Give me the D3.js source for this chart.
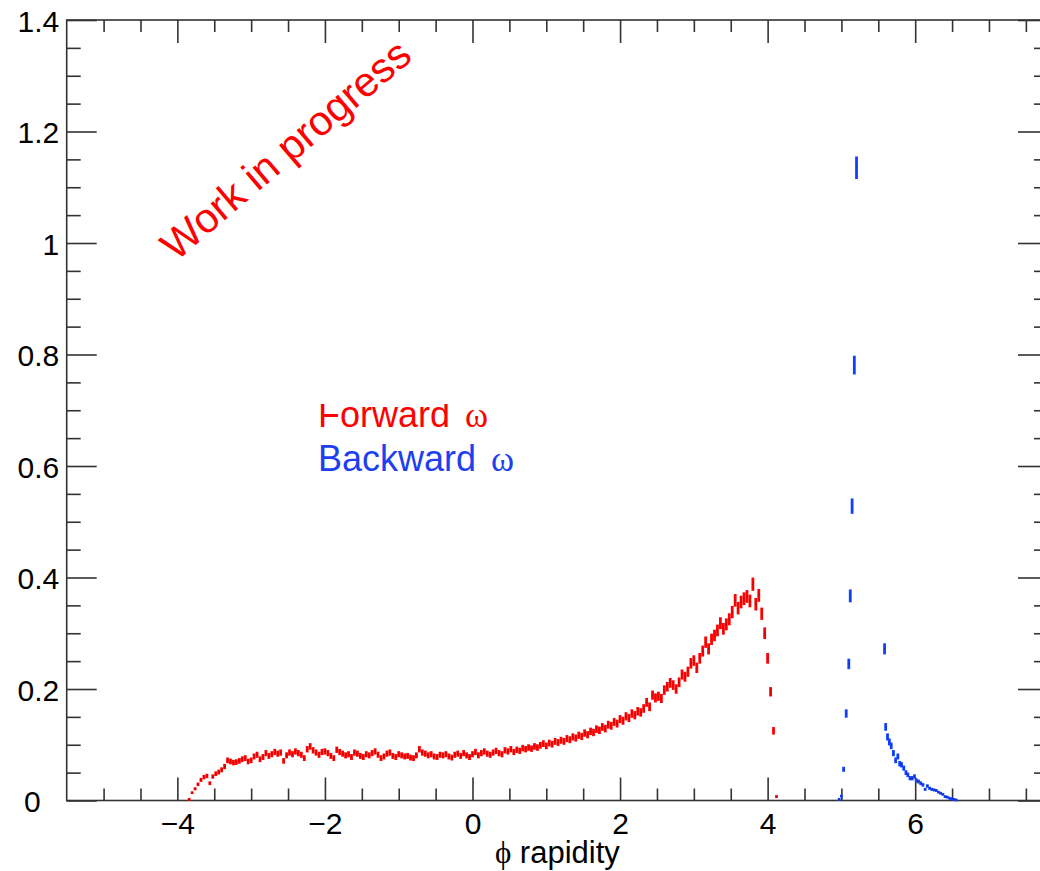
<!DOCTYPE html>
<html>
<head>
<meta charset="utf-8">
<script src="https://cdn.jsdelivr.net/npm/d3@7"></script>
<style>
  html, body { margin: 0; padding: 0; background: #fff; }
  svg { display: block; }
  text { font-family: "Liberation Sans", Arial, Helvetica, sans-serif; }
</style>
</head>
<body>
<svg id="chart" width="1040" height="871"></svg>
<script>
// ---------------- data ----------------
const xDomain = [-5.5, 7.8];
const yDomain = [0, 1.4];
const xMajorTicks = [-4, -2, 0, 2, 4, 6];
const yMajorTicks = [0, 0.2, 0.4, 0.6, 0.8, 1, 1.2, 1.4];
const xMinorStep = 0.5;
const yMinorStep = 0.05;

// Forward omega: bin centres start at redStart, spaced redStep
const redStart = -3.84;
const redStep = 0.04;
const redY = [
  0.002, 0.014, 0.021, 0.029, 0.037, 0.042, 0.044, 0.031, 0.043, 0.048,
  0.051, 0.055, 0.061, 0.072, 0.070, 0.068,
  0.069, 0.071, 0.074, 0.076, 0.070, 0.072, 0.079, 0.082, 0.074, 0.078,
  0.085, 0.080, 0.083, 0.087, 0.084, 0.086, 0.071, 0.081, 0.086, 0.083,
  0.088, 0.085, 0.082, 0.076, 0.092, 0.097, 0.090, 0.086, 0.082, 0.087,
  0.088, 0.085, 0.080, 0.076, 0.091, 0.087, 0.084, 0.081, 0.083, 0.078,
  0.086, 0.084, 0.080, 0.078, 0.083, 0.081, 0.085, 0.088, 0.082, 0.076,
  0.079, 0.084, 0.086, 0.080, 0.078, 0.083, 0.081, 0.079, 0.080, 0.077,
  0.076, 0.081, 0.092, 0.086, 0.084, 0.081, 0.083, 0.079, 0.078, 0.082,
  0.081, 0.083, 0.079, 0.077, 0.082, 0.084, 0.080, 0.085, 0.081, 0.078,
  0.083, 0.087, 0.081, 0.085, 0.088, 0.084, 0.082, 0.086, 0.089, 0.085,
  0.083, 0.090, 0.088, 0.092, 0.087, 0.091, 0.089, 0.094, 0.092, 0.095,
  0.093, 0.097, 0.095, 0.099, 0.102, 0.098, 0.103, 0.101, 0.106, 0.104,
  0.108, 0.106, 0.111, 0.109, 0.114, 0.112, 0.117, 0.115, 0.121, 0.118,
  0.124, 0.122, 0.128, 0.126, 0.132, 0.129, 0.136, 0.134, 0.141, 0.138,
  0.146, 0.143, 0.151, 0.148, 0.156, 0.153, 0.160, 0.158, 0.165, 0.176,
  0.168, 0.189, 0.184, 0.187, 0.183, 0.198, 0.204, 0.211, 0.207, 0.200,
  0.212, 0.226, 0.222, 0.231, 0.246, 0.251, 0.238, 0.255, 0.268, 0.284,
  0.272, 0.289, 0.296, 0.305, 0.318, 0.308, 0.316, 0.325, 0.338, 0.359,
  0.345, 0.356, 0.362, 0.366, 0.358, 0.388, 0.352, 0.368, 0.335, 0.300,
  0.255, 0.195, 0.125, 0.007
];

// Backward omega: explicit bin centres and contents
const blueX = [4.97, 5.00, 5.03, 5.065, 5.10, 5.12, 5.145, 5.175, 5.205,
  5.585, 5.60, 5.625, 5.65, 5.675, 5.705, 5.735, 5.765, 5.79, 5.815, 5.845,
  5.875, 5.90, 5.93, 5.96, 5.99, 6.015, 6.045, 6.075, 6.105, 6.135, 6.165,
  6.195, 6.225, 6.255, 6.285, 6.315, 6.345, 6.375, 6.405, 6.435, 6.465,
  6.495, 6.525, 6.555];
const blueY = [0.002, 0.008, 0.056, 0.156, 0.245, 0.367, 0.528, 0.781, 1.135,
  0.272, 0.132, 0.114, 0.105, 0.098, 0.085, 0.072, 0.079, 0.066, 0.064, 0.058,
  0.050, 0.046, 0.040, 0.040, 0.043, 0.036, 0.034, 0.031, 0.028, 0.020, 0.026,
  0.022, 0.020, 0.019, 0.018, 0.015, 0.013, 0.011, 0.007, 0.006, 0.004,
  0.003, 0.002, 0.001];

const errScale = 0.019; // statistical error ~ errScale * sqrt(content)

const xTitle = "rapidity";
const xTitleSymbol = "ϕ";
const legendLabels = ["Forward", "Backward"];
const legendSymbol = "ω";
const stampText = "Work in progress";

// ---------------- layout ----------------
const svg = d3.select("#chart");
const frame = { left: 66.7, top: 20, right: 1048, bottom: 800.5 };
const x = d3.scaleLinear().domain(xDomain).range([frame.left, frame.right]);
const y = d3.scaleLinear().domain(yDomain).range([frame.bottom, frame.top]);
const axisColor = "#333";
const redColor = "#ff0000";
const blueColor = "#1040ff";

function rangeStep(a, b, s) {
  const out = [];
  const n = Math.round((b - a) / s);
  for (let i = 0; i <= n; i++) out.push(+(a + i * s).toFixed(6));
  return out;
}
const xMinor = rangeStep(-5.5, 7.5, xMinorStep).filter(v => !xMajorTicks.includes(v) && v > xDomain[0]);
const yMinor = rangeStep(0, 1.4, yMinorStep).filter(v => !yMajorTicks.some(m => Math.abs(m - v) < 1e-9));

function styleAxis(g) {
  g.select(".domain").remove();
  g.selectAll(".tick line").attr("stroke", axisColor).attr("stroke-width", 1.6);
  g.selectAll(".tick text").attr("fill", "#000").attr("font-size", 30)
    .attr("font-family", '"Liberation Sans", Arial, Helvetica, sans-serif');
}

// bottom axis
svg.append("g").attr("transform", `translate(0,${frame.bottom})`)
  .call(d3.axisBottom(x).tickValues(xMajorTicks).tickSize(-23).tickPadding(12)
    .tickFormat(d3.format("")))
  .call(styleAxis);
svg.append("g").attr("transform", `translate(0,${frame.bottom})`)
  .call(d3.axisBottom(x).tickValues(xMinor).tickSize(-12).tickFormat(""))
  .call(styleAxis);
// top axis (mirrored)
svg.append("g").attr("transform", `translate(0,${frame.top})`)
  .call(d3.axisTop(x).tickValues(xMajorTicks).tickSize(-23).tickFormat(""))
  .call(styleAxis);
svg.append("g").attr("transform", `translate(0,${frame.top})`)
  .call(d3.axisTop(x).tickValues(xMinor).tickSize(-12).tickFormat(""))
  .call(styleAxis);
// left axis
svg.append("g").attr("transform", `translate(${frame.left},0)`)
  .call(d3.axisLeft(y).tickValues(yMajorTicks).tickSize(-30).tickPadding(7.5)
    .tickFormat(d => d3.format("")(+d.toFixed(2))))
  .call(styleAxis)
  .call(g => g.selectAll(".tick text").attr("dy", "0.38em"))
  .call(g => g.selectAll(".tick").filter(d => d === 0).select("text").attr("x", -26));
svg.append("g").attr("transform", `translate(${frame.left},0)`)
  .call(d3.axisLeft(y).tickValues(yMinor).tickSize(-14).tickFormat(""))
  .call(styleAxis);
// right axis (mirrored)
svg.append("g").attr("transform", `translate(${frame.right},0)`)
  .call(d3.axisRight(y).tickValues(yMajorTicks).tickSize(-30).tickFormat(""))
  .call(styleAxis);
svg.append("g").attr("transform", `translate(${frame.right},0)`)
  .call(d3.axisRight(y).tickValues(yMinor).tickSize(-14).tickFormat(""))
  .call(styleAxis);

// frame
svg.append("rect")
  .attr("x", frame.left).attr("y", frame.top)
  .attr("width", frame.right - frame.left).attr("height", frame.bottom - frame.top)
  .attr("fill", "none").attr("stroke", axisColor).attr("stroke-width", 1.6);

// data points with error bars
function drawSeries(xs, ys, color) {
  const pts = xs.map((xv, i) => ({ x: xv, y: ys[i], e: errScale * Math.sqrt(ys[i]) }))
    .filter(d => d.y > 0);
  const g = svg.append("g");
  g.selectAll("rect.err").data(pts).join("rect").attr("class", "err")
    .attr("x", d => x(d.x) - 1.4)
    .attr("width", 2.8)
    .attr("y", d => Math.min(y(d.y + d.e), y(d.y) - 1.4))
    .attr("height", d => Math.max(y(d.y - d.e) - y(d.y + d.e), 2.8))
    .attr("fill", color);
  g.selectAll("rect.dot").data(pts).join("rect").attr("class", "dot")
    .attr("x", d => x(d.x) - 0.5).attr("y", d => y(d.y) - 0.5)
    .attr("width", 1).attr("height", 1)
    .attr("fill", "#222").attr("opacity", 0.6);
}
const redX = redY.map((_, i) => redStart + i * redStep);
drawSeries(redX, redY, redColor);
drawSeries(blueX, blueY, blueColor);

// x title
const xt = svg.append("text")
  .attr("x", (frame.left + frame.right) / 2).attr("y", 863)
  .attr("text-anchor", "middle").attr("font-size", 31).attr("fill", "#000");
xt.append("tspan").attr("font-family", '"Liberation Serif", "DejaVu Serif", serif').text(xTitleSymbol);
xt.append("tspan").text(" " + xTitle);

// legend (top of first entry clipped)
svg.append("defs").append("clipPath").attr("id", "legclip")
  .append("rect").attr("x", 0).attr("y", 404).attr("width", 1040).attr("height", 200);
const leg = svg.append("g").attr("clip-path", "url(#legclip)");
const legColors = [redColor, "#1d3ff0"];
legendLabels.forEach((lab, i) => {
  const t = leg.append("text").attr("x", 318).attr("y", 427 + i * 43.5)
    .attr("font-size", 36).attr("fill", legColors[i]);
  t.append("tspan").text(lab + " ");
  t.append("tspan").attr("dx", 5).attr("font-family", '"Liberation Serif", "DejaVu Serif", serif')
    .attr("font-size", 35).text(legendSymbol);
});

// rotated stamp
svg.append("text")
  .attr("transform", "translate(176,262) rotate(-40.5)")
  .attr("font-size", 41.5).attr("fill", redColor)
  .text(stampText);
</script>
</body>
</html>
